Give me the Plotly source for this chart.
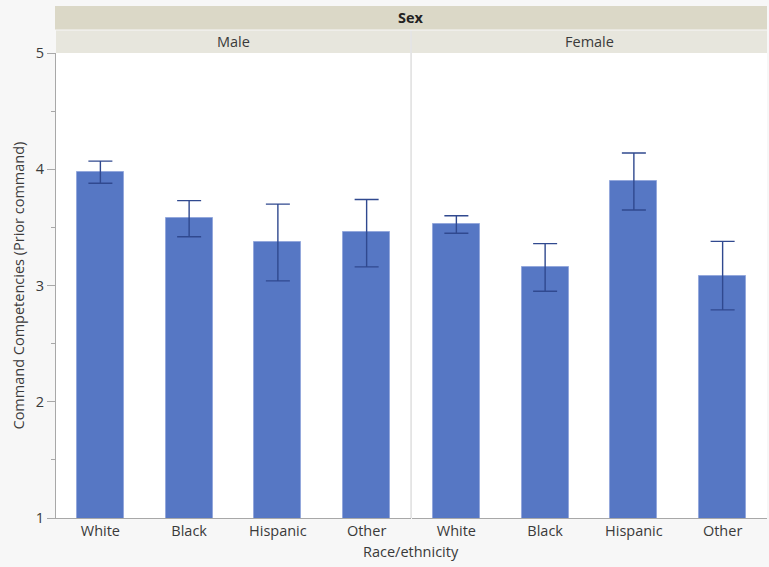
import plotly.graph_objects as go
from plotly.subplots import make_subplots

# Race/ethnicity categories shown in each sex panel
categories = ["White", "Black", "Hispanic", "Other"]
panels = ["Male", "Female"]

# Mean command competency scores with interval bounds
male_mean = [3.98, 3.58, 3.37, 3.46]
male_upper = [4.07, 3.73, 3.70, 3.74]
male_lower = [3.88, 3.42, 3.04, 3.16]

female_mean = [3.53, 3.16, 3.90, 3.08]
female_upper = [3.60, 3.36, 4.14, 3.38]
female_lower = [3.45, 2.95, 3.65, 2.79]

y_ticks = [1, 2, 3, 4, 5]

W, H = 769, 567
L, R, T, B = 56, 2, 53, 49
plot_h = H - T - B
plot_w = W - L - R

BAR = "#5677c4"
BAR_EDGE = "#94a8dc"
ERR = "#30498f"
FONT = "Open Sans, Noto Sans, sans-serif"
FS = 14.5
TXT = "#3a3a3a"

fig = make_subplots(rows=1, cols=2, shared_yaxes=True, horizontal_spacing=0.0014)

for col, (mean, up, lo) in enumerate(
    [(male_mean, male_upper, male_lower), (female_mean, female_upper, female_lower)], start=1
):
    fig.add_trace(
        go.Bar(
            x=categories,
            y=mean,
            name=panels[col - 1],
            width=0.53,
            marker=dict(color=BAR, line=dict(color=BAR_EDGE, width=1)),
            error_y=dict(
                type="data",
                symmetric=False,
                array=[u - m for u, m in zip(up, mean)],
                arrayminus=[m - l for m, l in zip(mean, lo)],
                color=ERR,
                thickness=1.4,
                width=12,
            ),
            showlegend=False,
        ),
        row=1,
        col=col,
    )

axis_common = dict(
    showgrid=False,
    zeroline=False,
    showline=True,
    linecolor="#a8a8a8",
    linewidth=1,
    mirror=False,
)

for col in (1, 2):
    fig.update_xaxes(
        **axis_common,
        type="category",
        ticks="",
        tickfont=dict(family=FONT, size=FS, color=TXT),
        row=1,
        col=col,
    )

fig.update_yaxes(
    **axis_common,
    range=[1, 5],
    tickvals=y_ticks,
    ticks="outside",
    ticklen=8,
    tickcolor="#a8a8a8",
    minor=dict(dtick=0.5, ticks="outside", ticklen=4, tickcolor="#a8a8a8"),
    tickfont=dict(family=FONT, size=FS, color=TXT),
    row=1,
    col=1,
)
fig.update_yaxes(showline=False, ticks="", range=[1, 5], showgrid=False, zeroline=False, row=1, col=2)

# Helpers converting pixel positions into paper fractions
def py(y):
    return (H - B - y) / plot_h

def px(x):
    return (x - L) / plot_w

shapes = [
    # overall "Sex" header band
    dict(type="rect", xref="paper", yref="paper", x0=px(55), x1=px(767), y0=py(29.5), y1=py(6),
         fillcolor="#dbd8c7", line=dict(width=0), layer="below"),
    # panel header bands
    dict(type="rect", xref="paper", yref="paper", x0=px(56), x1=px(410), y0=py(53), y1=py(30.5),
         fillcolor="#e7e6dd", line=dict(width=0), layer="below"),
    dict(type="rect", xref="paper", yref="paper", x0=px(412), x1=px(767), y0=py(53), y1=py(30.5),
         fillcolor="#e7e6dd", line=dict(width=0), layer="below"),
    # divider between panels
    dict(type="line", xref="paper", yref="paper", x0=px(411), x1=px(411), y0=0, y1=py(30.5),
         line=dict(color="#d2d2d2", width=1)),
]

annotations = [
    dict(text="<b>Sex</b>", x=px(411), y=py(17.5), xref="paper", yref="paper", showarrow=False,
         font=dict(family=FONT, size=FS, color="#222222"), xanchor="center", yanchor="middle"),
    dict(text="Male", x=px(233.5), y=py(42), xref="paper", yref="paper", showarrow=False,
         font=dict(family=FONT, size=FS, color=TXT), xanchor="center", yanchor="middle"),
    dict(text="Female", x=px(589.5), y=py(42), xref="paper", yref="paper", showarrow=False,
         font=dict(family=FONT, size=FS, color=TXT), xanchor="center", yanchor="middle"),
    dict(text="Race/ethnicity", x=px(411), y=py(551), xref="paper", yref="paper", showarrow=False,
         font=dict(family=FONT, size=FS, color=TXT), xanchor="center", yanchor="middle"),
    dict(text="Command Competencies (Prior command)", x=px(18), y=0.5, xref="paper", yref="paper",
         showarrow=False, textangle=-90,
         font=dict(family=FONT, size=FS, color=TXT), xanchor="center", yanchor="middle"),
]

fig.update_layout(
    width=W,
    height=H,
    margin=dict(l=L, r=R, t=T, b=B),
    paper_bgcolor="#f7f7f7",
    plot_bgcolor="#ffffff",
    bargap=0,
    shapes=shapes,
    annotations=annotations,
    font=dict(family=FONT, size=FS, color=TXT),
)

fig.write_html("out.html")
